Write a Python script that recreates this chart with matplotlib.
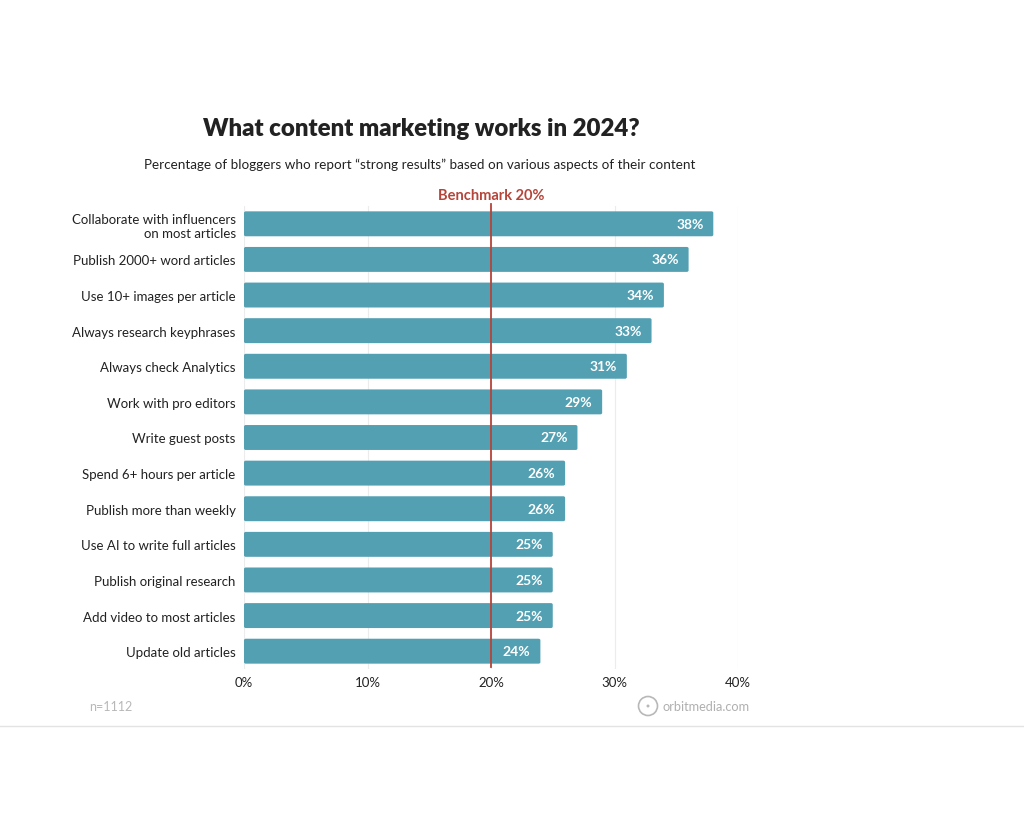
import matplotlib
matplotlib.use("Agg")
import matplotlib.pyplot as plt
from matplotlib.patches import FancyBboxPatch, Ellipse
from matplotlib.lines import Line2D

plt.rcParams['font.family'] = ['Lato', 'DejaVu Sans']

# data, top to bottom
labels = ["Collaborate with influencers\non most articles",
          "Publish 2000+ word articles",
          "Use 10+ images per article",
          "Always research keyphrases",
          "Always check Analytics",
          "Work with pro editors",
          "Write guest posts",
          "Spend 6+ hours per article",
          "Publish more than weekly",
          "Use AI to write full articles",
          "Publish original research",
          "Add video to most articles",
          "Update old articles"]
values = [38, 36, 34, 33, 31, 29, 27, 26, 26, 25, 25, 25, 24]
benchmark = 20
xticks = [0, 10, 20, 30, 40]

bar_color = "#53a0b3"
red = "#b5453a"

fig = plt.figure(figsize=(10.24, 8.2), dpi=100)
ax = fig.add_axes([244 / 1024, 1 - 670 / 820, 494 / 1024, 463 / 820])

ypos = list(range(len(values)))
for y, v in zip(ypos, values):
    box = FancyBboxPatch((0, y - 0.35), v, 0.7,
                         boxstyle="round,pad=0,rounding_size=0.15",
                         mutation_aspect=1 / 3.5, fc=bar_color, ec="none", zorder=2)
    ax.add_patch(box)
    ax.text(v - 0.8, y, f"{v}%", ha="right", va="center", color="white",
            fontsize=10, fontweight="bold", zorder=3)

ax.set_xlim(0, 40)
ax.set_ylim(len(values) - 0.5, -0.5)
ax.set_yticks(ypos)
ax.set_yticklabels(labels, fontsize=9.5, color="#222222", linespacing=1.25)
ax.set_xticks(xticks)
ax.set_xticklabels([f"{x}%" for x in xticks], fontsize=9.5, color="#222222")
ax.tick_params(axis="y", length=0, pad=6)
ax.tick_params(axis="x", length=0, pad=5)
ax.grid(axis="x", color="#ececec", lw=0.8, zorder=0)
for s in ax.spines.values():
    s.set_visible(False)

ax.axvline(benchmark, color=red, lw=1.3, ymin=0.005, ymax=1.005, zorder=4, clip_on=False)
ax.text(benchmark, -0.6, f"Benchmark {benchmark}%", ha="center", va="bottom",
        color=red, fontsize=10.5, fontweight="bold")

fig.text(421 / 1024, 1 - 129 / 820, "What content marketing works in 2024?", ha="center",
         va="center", fontsize=17.3, fontweight="heavy", color="#222222")
fig.text(420 / 1024, 1 - 165 / 820,
         "Percentage of bloggers who report \u201cstrong results\u201d based on various aspects of their content",
         ha="center", va="center", fontsize=9.7, color="#222222")

fig.text(89 / 1024, 1 - 707 / 820, "n=1112", ha="left", va="center", fontsize=9, color="#b8b8b8")
fig.text(750 / 1024, 1 - 707 / 820, "orbitmedia.com", ha="right", va="center",
         fontsize=9.2, color="#b0b0b0")
cx, cy = 648 / 1024, 1 - 707 / 820
fig.add_artist(Ellipse((cx, cy), 19 / 1024, 19 / 820, transform=fig.transFigure,
                       fc="none", ec="#b8b8b8", lw=1.2))
fig.add_artist(Ellipse((cx, cy), 3 / 1024, 3 / 820, transform=fig.transFigure,
                       fc="#b8b8b8", ec="none"))
fig.add_artist(Line2D([0, 1], [1 - 727 / 820] * 2, transform=fig.transFigure,
                      color="#e3e3e3", lw=1))

fig.savefig("out.png", dpi=100, facecolor="white")
